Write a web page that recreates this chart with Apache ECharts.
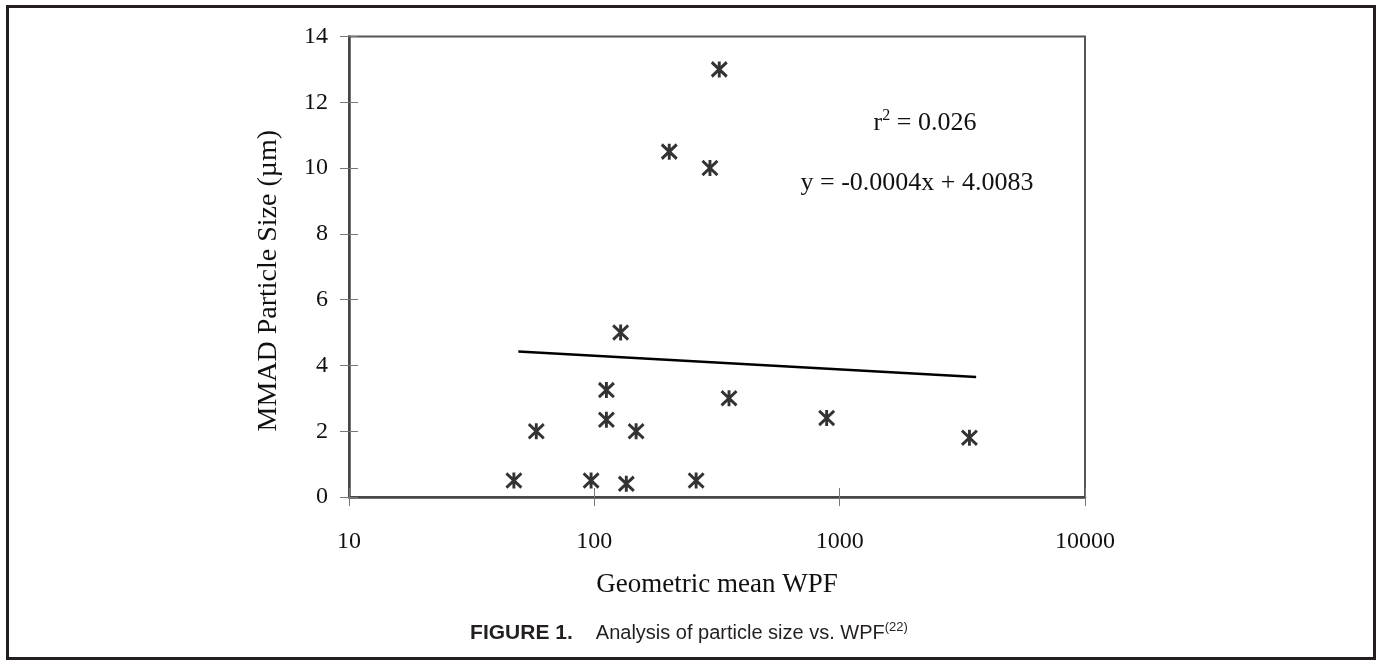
<!DOCTYPE html>
<html>
<head>
<meta charset="utf-8">
<script src="https://cdn.jsdelivr.net/npm/echarts@6/dist/echarts.min.js"></script>
<style>
  html, body { margin: 0; padding: 0; background: #fff; }
  #chart { width: 1376px; height: 660px; }
</style>
</head>
<body>
<div id="chart"></div>
<script>
// Data
const wpf = [47, 58, 97, 112, 112, 128, 135, 148, 202, 260, 296, 323, 354, 885, 3380];
const mmad = [0.5, 2.0, 0.5, 3.25, 2.35, 5.0, 0.4, 2.0, 10.5, 0.5, 10.0, 13.0, 3.0, 2.4, 1.8];
const trendX = [49, 3600];
const trendY = [4.42, 3.65];
const yTicks = [0, 2, 4, 6, 8, 10, 12, 14];
const xTicks = [10, 100, 1000, 10000];
const rSquaredText = '0.026';
const equationText = 'y = -0.0004x + 4.0083';

const points = wpf.map((x, i) => [x, mmad[i]]);
const trend = trendX.map((x, i) => [x, trendY[i]]);

const serif = 'Liberation Serif, Times New Roman, serif';
const sans = 'Liberation Sans, Arial, Helvetica, sans-serif';
const chart = echarts.init(document.getElementById('chart'), null, { renderer: 'canvas' });

const baseX = {
  type: 'log', logBase: 10, min: xTicks[0], max: xTicks[xTicks.length - 1],
  position: 'bottom', splitLine: { show: false }, minorTick: { show: false }
};
const baseY = {
  type: 'value', min: yTicks[0], max: yTicks[yTicks.length - 1], interval: 2,
  position: 'left', splitLine: { show: false }
};

chart.setOption({
  animation: false,
  backgroundColor: '#fff',
  grid: {
    left: 349, top: 36.5, right: 291, bottom: 163,
    show: true, borderColor: '#555', borderWidth: 2, backgroundColor: 'transparent'
  },
  xAxis: [
    Object.assign({}, baseX, {
      axisLine: { show: true, onZero: false, lineStyle: { color: '#444', width: 2.5 } },
      axisTick: { show: true, length: 9, lineStyle: { color: '#777', width: 1 } },
      axisLabel: { show: true, margin: 33, fontFamily: serif, fontSize: 24, color: '#111',
        formatter: v => String(Math.round(v)) },
      name: 'Geometric mean WPF', nameLocation: 'middle', nameGap: 74,
      nameTextStyle: { fontFamily: serif, fontSize: 27, color: '#111' }
    }),
    Object.assign({}, baseX, {
      axisLine: { show: false },
      axisTick: { show: true, inside: true, length: 9, lineStyle: { color: '#777', width: 1 } },
      axisLabel: { show: false }
    })
  ],
  yAxis: [
    Object.assign({}, baseY, {
      axisLine: { show: true, onZero: false, lineStyle: { color: '#444', width: 2.5 } },
      axisTick: { show: true, length: 9, lineStyle: { color: '#777', width: 1 } },
      axisLabel: { show: true, margin: 21, fontFamily: serif, fontSize: 24, color: '#111' },
      name: 'MMAD Particle Size (\u00b5m)', nameLocation: 'middle', nameGap: 66, nameRotate: 90,
      nameTextStyle: { fontFamily: serif, fontSize: 28, color: '#111', padding: [0, 28, 0, 0] }
    }),
    Object.assign({}, baseY, {
      axisLine: { show: false },
      axisTick: { show: true, inside: true, length: 9, lineStyle: { color: '#777', width: 1 } },
      axisLabel: { show: false }
    })
  ],
  series: [
    {
      type: 'line', data: trend, xAxisIndex: 0, yAxisIndex: 0,
      symbol: 'none', lineStyle: { color: '#000', width: 2.5 }, silent: true, z: 2
    },
    {
      type: 'scatter', data: points, xAxisIndex: 0, yAxisIndex: 0,
      symbol: 'path://M0,0L16,16M16,0L0,16M8,-1L8,17',
      symbolSize: [15, 16],
      itemStyle: { color: 'rgba(0,0,0,0)', borderColor: '#000', borderWidth: 3 },
      z: 3
    }
  ],
  graphic: [
    {
      type: 'rect', silent: true,
      shape: { x: 7.5, y: 6.5, width: 1367, height: 652 },
      style: { fill: 'none', stroke: '#231f20', lineWidth: 3 }
    },
    {
      type: 'text', x: 925, y: 123, silent: true,
      style: {
        text: '{a|r}{s|2}{a| = ' + rSquaredText + '}',
        align: 'center', verticalAlign: 'middle',
        rich: {
          a: { fontFamily: serif, fontSize: 26, fill: '#111', lineHeight: 30 },
          s: { fontFamily: serif, fontSize: 16, fill: '#111', verticalAlign: 'top', lineHeight: 30, padding: [0, 0, 12, 0] }
        }
      }
    },
    {
      type: 'text', x: 917, y: 183, silent: true,
      style: { text: equationText, align: 'center', verticalAlign: 'middle',
        fontFamily: serif, fontSize: 26, fill: '#111' }
    },
    {
      type: 'text', x: 689, y: 633, silent: true,
      style: {
        text: '{b|FIGURE 1.}{n|Analysis of particle size vs. WPF}{s|(22)}',
        align: 'center', verticalAlign: 'middle',
        rich: {
          b: { fontFamily: sans, fontWeight: 'bold', fontSize: 21, fill: '#231f20', lineHeight: 24 },
          n: { fontFamily: sans, fontSize: 20, fill: '#231f20', lineHeight: 24, padding: [0, 0, 0, 23] },
          s: { fontFamily: sans, fontSize: 13, fill: '#231f20', verticalAlign: 'top', lineHeight: 24, padding: [0, 0, 9, 0] }
        }
      }
    }
  ]
});
</script>
</body>
</html>
